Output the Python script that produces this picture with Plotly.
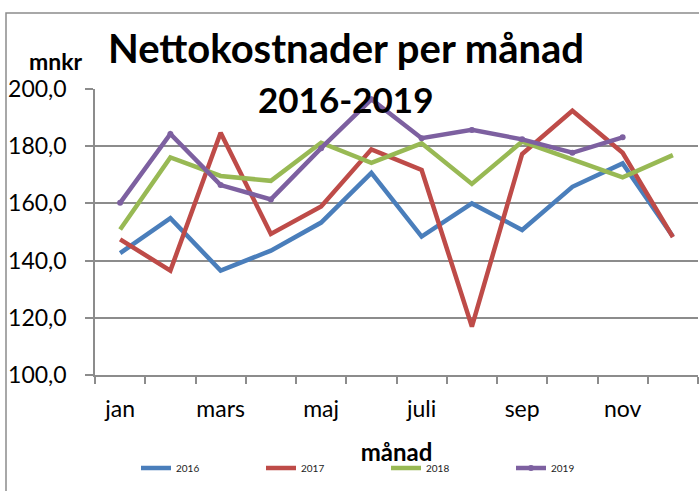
import plotly.graph_objects as go

months = ["jan", "feb", "mars", "apr", "maj", "juni", "juli", "aug", "sep", "okt", "nov", "dec"]
tick_text = ["jan", "", "mars", "", "maj", "", "juli", "", "sep", "", "nov", ""]

v2016 = [142.6, 154.8, 136.5, 143.5, 153.3, 170.7, 148.4, 160.0, 150.7, 165.8, 174.0, 148.4]
v2017 = [147.4, 136.5, 184.7, 149.3, 158.9, 178.9, 171.7, 116.9, 177.3, 192.4, 177.7, 148.2]
v2018 = [150.9, 176.1, 169.6, 167.9, 181.2, 174.2, 181.0, 166.8, 181.6, 175.4, 169.1, 176.9]
v2019 = [160.2, 184.3, 166.4, 161.4, 179.3, 196.4, 182.8, 185.7, 182.4, 177.7, 183.1, None]

series = [
    ("2016", v2016, "#4A7EBB", False),
    ("2017", v2017, "#BE4B48", False),
    ("2018", v2018, "#98B954", False),
    ("2019", v2019, "#7D60A0", True),
]

FONT = "Lato"
W, H = 699, 491
L, R, T, B = 95, 1, 89, 116
pw = W - L - R
ph = H - T - B

def px(x):
    return (x - L) / pw

def py(y):
    return (H - B - y) / ph

fig = go.Figure()
for name, vals, color, mk in series:
    fig.add_trace(go.Scatter(
        x=months, y=vals, name=name,
        mode="lines+markers" if mk else "lines",
        line=dict(color=color, width=4.5),
        marker=dict(size=6, color=color) if mk else None,
        connectgaps=False,
    ))

grid = "#8C8C8C"
fig.update_layout(
    width=W, height=H,
    margin=dict(l=L, r=R, t=T, b=B),
    paper_bgcolor="white", plot_bgcolor="white",
    separators=", ",
    font=dict(family=FONT, color="#000000"),
    showlegend=True,
    legend=dict(
        orientation="h", x=px(136), xanchor="left", y=py(468), yanchor="middle",
        font=dict(family=FONT, size=10, color="#222222"),
        entrywidth=80, entrywidthmode="pixels",
        bgcolor="rgba(0,0,0,0)",
    ),
    xaxis=dict(
        type="category", categoryorder="array", categoryarray=months,
        range=[-0.5, 11.5],
        tickmode="array", tickvals=months, ticktext=tick_text, tickangle=0,
        tickson="boundaries", ticks="outside", ticklen=7, tickwidth=1.5, tickcolor=grid,
        showline=True, linecolor=grid, linewidth=1.5,
        showgrid=False, zeroline=False,
        tickfont=dict(family=FONT, size=23, color="#000000"),
        ticklabelstandoff=13,
        title=dict(text="<b>månad</b>", font=dict(family=FONT, size=24, color="#000000"), standoff=23),
    ),
    yaxis=dict(
        range=[100, 200], dtick=20, tick0=100, tickformat=".1f",
        ticks="outside", ticklen=8, tickwidth=1.5, tickcolor=grid,
        showline=True, linecolor=grid, linewidth=1.5,
        showgrid=True, gridcolor=grid, gridwidth=1.5, zeroline=False,
        tickfont=dict(family=FONT, size=23, color="#000000"),
        ticklabelstandoff=14,
    ),
    shapes=[dict(
        type="rect", xref="paper", yref="paper",
        x0=px(6), x1=px(720), y0=py(520), y1=py(13),
        line=dict(color="#8C8C8C", width=1.5), fillcolor="rgba(0,0,0,0)", layer="below",
    )],
    annotations=[
        dict(text="<b>Nettokostnader per månad</b>", xref="paper", yref="paper",
             x=px(346), y=py(48), xanchor="center", yanchor="middle", showarrow=False,
             font=dict(family=FONT, size=40, color="#000000")),
        dict(text="<b>2016-2019</b>", xref="paper", yref="paper",
             x=px(345), y=py(99), xanchor="center", yanchor="middle", showarrow=False,
             font=dict(family=FONT, size=35, color="#000000")),
        dict(text="<b>mnkr</b>", xref="paper", yref="paper",
             x=px(56), y=py(61), xanchor="center", yanchor="middle", showarrow=False,
             font=dict(family=FONT, size=23, color="#000000")),
    ],
)

fig.write_html("out.html", config={"displayModeBar": False},
               post_script="document.body.style.margin='0';")
